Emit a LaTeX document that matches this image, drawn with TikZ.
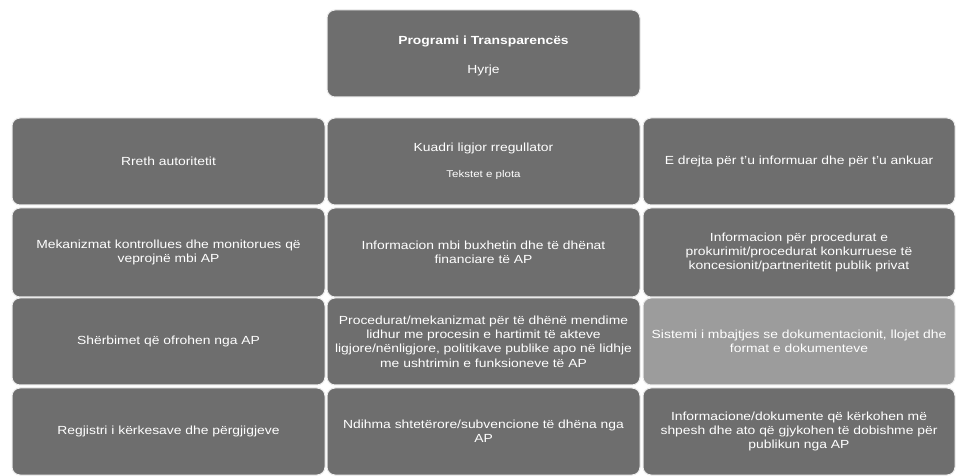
\documentclass[tikz,border=0pt]{standalone}
\usepackage{fontspec}
\setmainfont{Liberation Sans}[FakeStretch=1.18]
\definecolor{boxgray}{HTML}{6E6E6E}
\definecolor{lightgray}{HTML}{9C9C9C}
\begin{document}
\begin{tikzpicture}[x=1bp,y=-1bp,
  cell/.style={draw=white!85!gray, line width=1bp, fill=boxgray, rounded corners=8bp},
  txt/.style={text=white, align=center, inner sep=0pt, font=\fontsize{11.8}{14.3}\selectfont},
]
\useasboundingbox[fill=white] (0,0) rectangle (960,476);
% top
\draw[cell] (327,10) rectangle (640,97);
\node[txt, font=\fontsize{11.8}{14}\selectfont\bfseries] (title) at (483.5,41) {Programi i Transparencës};
\node[txt] (hyrje) at (483.5,70) {Hyrje};
% row 1
\draw[cell] (12,118) rectangle (325,205);
\node[txt] (r1c1) at (168.5,161.5) {Rreth autoritetit};
\draw[cell] (327,118) rectangle (640,205);
\node[txt] (r1c2) at (483.5,148) {Kuadri ligjor rregullator};
\node[txt, font=\fontsize{9.8}{12}\selectfont] (r1c2s) at (483.5,175) {Tekstet e plota};
\draw[cell] (643,118) rectangle (955,205);
\node[txt] (r1c3) at (799,161.5) {E drejta për t'u informuar dhe për t'u ankuar};
% row 2
\draw[cell] (12,208) rectangle (325,297);
\node[txt] (r2c1) at (168.5,252.5) {Mekanizmat kontrollues dhe monitorues që\\veprojnë mbi AP};
\draw[cell] (327,208) rectangle (640,297);
\node[txt] (r2c2) at (483.5,252.5) {Informacion mbi buxhetin dhe të dhënat\\financiare të AP};
\draw[cell] (643,208) rectangle (955,297);
\node[txt] (r2c3) at (799,252.5) {Informacion për procedurat e\\prokurimit/procedurat konkurruese të\\koncesionit/partneritetit publik privat};
% row 3
\draw[cell] (12,298) rectangle (325,385);
\node[txt] (r3c1) at (168.5,341.5) {Shërbimet që ofrohen nga AP};
\draw[cell] (327,298) rectangle (640,385);
\node[txt] (r3c2) at (483.5,341.5) {Procedurat/mekanizmat për të dhënë mendime\\lidhur me procesin e hartimit të akteve\\ligjore/nënligjore, politikave publike apo në lidhje\\me ushtrimin e funksioneve të AP};
\draw[cell, fill=lightgray] (643,298) rectangle (955,385);
\node[txt] (r3c3) at (799,341.5) {Sistemi i mbajtjes se dokumentacionit, llojet dhe\\format e dokumenteve};
% row 4
\draw[cell] (12,388) rectangle (325,475);
\node[txt] (r4c1) at (168.5,431.5) {Regjistri i kërkesave dhe përgjigjeve};
\draw[cell] (327,388) rectangle (640,475);
\node[txt] (r4c2) at (483.5,431.5) {Ndihma shtetërore/subvencione të dhëna nga\\AP};
\draw[cell] (643,388) rectangle (955,475);
\node[txt] (r4c3) at (799,431.5) {Informacione/dokumente që kërkohen më\\shpesh dhe ato që gjykohen të dobishme për\\publikun nga AP};
\end{tikzpicture}
\end{document}
